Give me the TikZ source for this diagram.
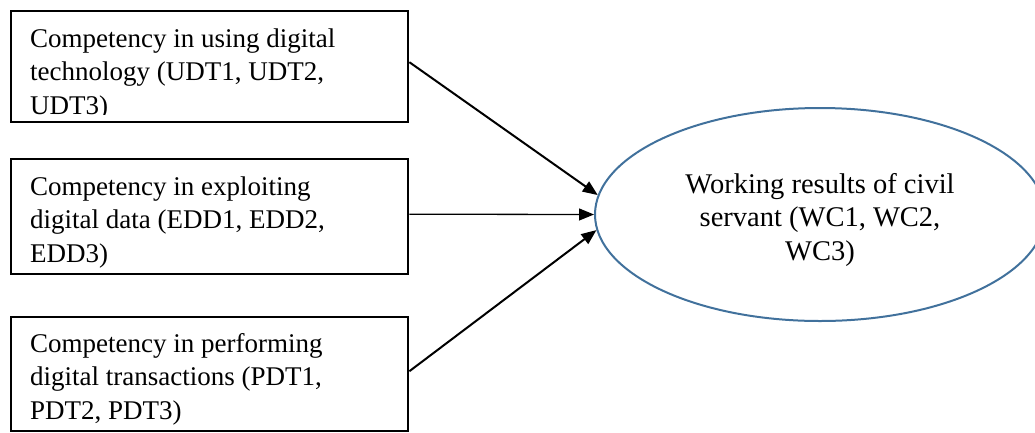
\documentclass[tikz,border=0pt]{standalone}
\usepackage{fontspec}
\setmainfont{Liberation Serif}
\usetikzlibrary{arrows.meta,shapes.geometric,calc}
\definecolor{ellblue}{RGB}{65,113,156}
\begin{document}
\begin{tikzpicture}[x=1pt,y=-1pt,
  factor/.style={draw=black, line width=2.4pt, rectangle, minimum width=397pt,
    anchor=north west, inner sep=0pt},
  factortext/.style={anchor=north west, inner sep=0pt, align=left,
    font=\fontsize{27}{33.5}\selectfont},
  outcome/.style={draw=ellblue, line width=2pt, ellipse, minimum width=450pt,
    minimum height=213pt, inner sep=0pt},
  outcometext/.style={anchor=north, inner sep=0pt, align=center,
    font=\fontsize{28.5}{33.5}\selectfont},
  link/.style={draw=black, line width=2pt, -{Triangle[length=15pt,width=12pt]}},
  thinlink/.style={link, line width=1.3pt}]
  \useasboundingbox (0,0) rectangle (1035,432);
  \clip (0,0) rectangle (1035,432);

  % three competency boxes
  \node[factor, minimum height=111pt] (udt) at (10,9.5) {};
  \node[factor, minimum height=115pt] (edd) at (10,158) {};
  \node[factor, minimum height=114pt] (pdt) at (10,315.5) {};

  % box texts (the first one is cut off by its text frame)
  \begin{scope}
    \clip (10,9.5) rectangle (407,114);
    \node[factortext] (udtlabel) at (30,23.5)
      {\strut Competency in using digital\\\strut technology (UDT1, UDT2,\\\strut UDT3)};
  \end{scope}
  \node[factortext] (eddlabel) at (30,171.5)
    {\strut Competency in exploiting\\\strut digital data (EDD1, EDD2,\\\strut EDD3)};
  \node[factortext] (pdtlabel) at (30,328.5)
    {\strut Competency in performing\\\strut digital transactions (PDT1,\\\strut PDT2, PDT3)};

  % outcome ellipse
  \node[outcome] (wc) at (820,214.5) {};
  \node[outcometext] (wclabel) at (820,169.5)
    {\strut Working results of civil\\\strut servant (WC1, WC2,\\\strut WC3)};

  % paths into the outcome
  \draw[link] ($(udt.east)+(0,-4)$) -- (wc.175.8);
  \draw[thinlink] ($(edd.east)+(0,-2.5)$) -- (wc.west);
  \draw[link] ($(pdt.east)+(0,-2.5)$) -- (wc.184.2);
\end{tikzpicture}
\end{document}
